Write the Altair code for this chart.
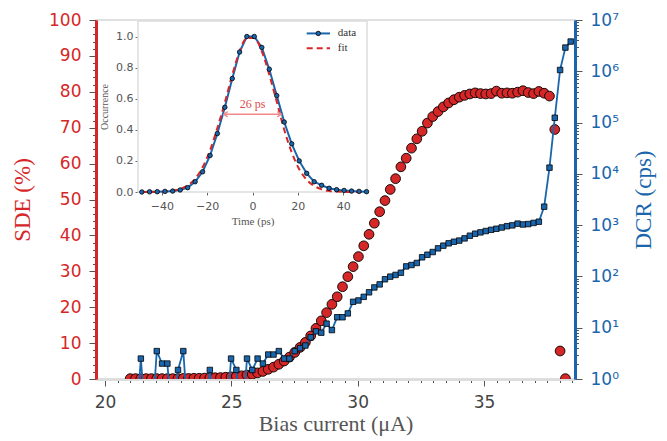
import altair as alt
import pandas as pd

# ---------------- data ----------------
bias_current = [
    21.00, 21.21, 21.42, 21.63, 21.84, 22.05, 22.26, 22.47, 22.68, 22.89,
    23.10, 23.31, 23.52, 23.73, 23.94, 24.15, 24.36, 24.57, 24.78, 24.99,
    25.20, 25.41, 25.62, 25.83, 26.04, 26.25, 26.46, 26.67, 26.88, 27.09,
    27.30, 27.51, 27.72, 27.93, 28.14, 28.35, 28.56, 28.77, 28.98, 29.19,
    29.40, 29.61, 29.82, 30.03, 30.24, 30.45, 30.66, 30.87, 31.08, 31.29,
    31.50, 31.71, 31.92, 32.13, 32.34, 32.55, 32.76, 32.97, 33.18, 33.39,
    33.60, 33.81, 34.02, 34.23, 34.44, 34.65, 34.86, 35.07, 35.28, 35.49,
    35.70, 35.91, 36.12, 36.33, 36.54, 36.75, 36.96, 37.17, 37.38, 37.59,
    37.80, 38.01, 38.22, 38.43,
]

sde_percent = [
    0.1, 0.1, 0.1, 0.1, 0.1, 0.1, 0.1, 0.1, 0.1, 0.1,
    0.15, 0.15, 0.2, 0.2, 0.25, 0.3, 0.35, 0.4, 0.5, 0.6,
    0.75, 0.9, 1.1, 1.3, 1.7, 2.1, 2.7, 3.3, 4.1, 5.0,
    6.1, 7.4, 8.8, 10.2, 12.0, 14.1, 16.2, 18.5, 20.8, 22.9,
    25.7, 28.5, 31.3, 34.1, 37.1, 40.3, 43.4, 46.6, 49.7, 52.8,
    55.8, 59.1, 61.5, 64.3, 66.9, 69.0, 71.3, 73.1, 74.5, 75.8,
    76.9, 77.8, 78.5, 79.0, 79.4, 79.7, 79.5, 79.4, 79.5, 80.2,
    79.6, 79.7, 79.6, 79.9, 80.3, 79.8, 79.5, 80.1, 79.6, 78.8,
    69.5, 7.8, 0.1,
]

dcr_cps = [
    0, 0, 2.5, 0, 0, 3.5, 2, 2, 0, 1.5,
    3.5, 0, 0, 0, 0, 1.5, 0, 0, 0, 2.5,
    1.5, 0, 2.5, 1.5, 2.5, 2, 3, 3, 3.5, 2.5,
    2.5, 3.5, 4, 4.5, 6.5, 8.5, 8, 12, 9, 16,
    16, 19, 32, 34, 40, 49, 61, 70, 88, 99,
    107, 118, 157, 167, 183, 236, 265, 299, 353, 398,
    442, 475, 500, 552, 622, 681, 723, 768, 810, 850,
    900, 955, 990, 1070, 1030, 1050, 1105, 1166, 2290, 13200,
    124000, 1060000, 2900000, 3800000,
]

time_ps = [
    -48.8, -45.4, -42.0, -38.6, -35.2, -31.9, -28.6, -25.3, -22.0, -18.7,
    -15.5, -12.2, -8.9, -5.7, -2.5, 0.8, 4.1, 7.4, 10.7, 14.0,
    17.3, 20.6, 23.9, 27.2, 30.5, 33.8, 37.1, 40.4, 43.7, 47.0, 50.3,
]
occurrence = [
    0.0, 0.001, 0.002, 0.004, 0.006, 0.013, 0.028, 0.066, 0.13, 0.235,
    0.376, 0.545, 0.73, 0.90, 1.0, 1.0, 0.93, 0.79, 0.62, 0.45,
    0.31, 0.20, 0.12, 0.066, 0.043, 0.024, 0.015, 0.01, 0.006, 0.004, 0.002,
]
gauss_fit = [
    0.0001, 0.0003, 0.001, 0.003, 0.008, 0.019, 0.042, 0.085, 0.159, 0.269,
    0.412, 0.575, 0.755, 0.905, 0.99, 0.99, 0.905, 0.755, 0.58, 0.40,
    0.255, 0.147, 0.079, 0.039, 0.017, 0.007, 0.0026, 0.0009, 0.0003, 0.0001, 0.0,
]
fwhm_text = "26 ps"
legend_names = ["data", "fit"]

# ---------------- styling / layout constants ----------------
RED = "#d62728"
BLUE = "#1a66ad"
ARROW_RED = "#f08a8a"
W, H = 479, 359
X_DOM = [19.645, 38.6]
T_DOM = [-50.5, 50.5]
O_DOM = [0.0, 1.1]
INSET_XR = [42, 271]
INSET_YR = [172, 1]
ZERO_FLOOR = 0.1          # zero counts drawn below the log axis (clipped)
SERIF = "Liberation Serif"
SANS = "DejaVu Sans"

sde_df = pd.DataFrame({"I": bias_current[:len(sde_percent)], "SDE": sde_percent})
dcr_df = pd.DataFrame({"I": bias_current, "DCR": dcr_cps})
ins_df = pd.DataFrame({"t": time_ps, "occ": occurrence, "fit": gauss_fit})


def xmain(axis=None):
    return alt.X("I:Q", scale=alt.Scale(domain=X_DOM, nice=False, zero=False), axis=axis)


def ysde(axis=None):
    return alt.Y("SDE:Q", scale=alt.Scale(domain=[0, 100], nice=False, zero=False), axis=axis)


def ydcr(axis=None):
    return alt.Y("DCRp:Q", scale=alt.Scale(type="log", domain=[1, 1e7], nice=False), axis=axis)


def xt(field, axis=None):
    return alt.X(field, type="quantitative",
                 scale=alt.Scale(domain=T_DOM, range=INSET_XR, nice=False, zero=False), axis=axis)


def yo(field, axis=None):
    return alt.Y(field, type="quantitative",
                 scale=alt.Scale(domain=O_DOM, range=INSET_YR, nice=False, zero=False), axis=axis)


# ---------------- axes ----------------
bottom_axis = alt.Axis(orient="bottom", values=[20, 25, 30, 35], format="d", tickSize=7,
                       tickColor="#555", domainColor="#dddddd", domainWidth=3,
                       labelFontSize=17, labelColor="#444", labelPadding=8,
                       title="Bias current (μA)", titleFont=SERIF, titleFontSize=22,
                       titleFontWeight="normal", titleColor="#555", titlePadding=3)
bottom_minor = alt.Axis(orient="bottom",
                        values=[19.5 + 0.5 * i for i in range(40) if (19.5 + 0.5 * i) % 5 != 0],
                        tickSize=3.5, tickColor="#555", labels=False, domain=False, title=None)
left_axis = alt.Axis(orient="left", values=list(range(0, 101, 10)), tickSize=7, tickColor="#555",
                     domainColor=RED, domainWidth=3, labelFontSize=17, labelColor=RED,
                     labelPadding=8, title="SDE (%)", titleFont=SERIF, titleFontSize=23,
                     titleFontWeight="normal", titleColor=RED, titlePadding=14)
left_minor = alt.Axis(orient="left", values=[v for v in range(0, 101, 2) if v % 10 != 0],
                      tickSize=3.5, tickColor="#555", labels=False, domain=False, title=None)
sup = "['⁰','¹','²','³','⁴','⁵','⁶','⁷']"
right_axis = alt.Axis(orient="right", values=[10 ** i for i in range(8)],
                      labelExpr="'10' + " + sup + "[round(log(datum.value) / LN10)]",
                      tickSize=7, tickColor="#555", domainColor=BLUE, domainWidth=3,
                      labelFontSize=17, labelColor=BLUE, labelPadding=8,
                      title="DCR (cps)", titleAngle=270, titleBaseline="top", titleFont=SERIF,
                      titleFontSize=23, titleFontWeight="normal", titleColor=BLUE,
                      titlePadding=14)
right_minor = alt.Axis(orient="right",
                       values=[m * 10 ** d for d in range(7) for m in range(2, 10)],
                       tickSize=3.5, tickColor="#555", labels=False, domain=False, title=None)
inset_x_axis = alt.Axis(orient="bottom", offset=-187, values=[-40, -20, 0, 20, 40], format="d",
                        tickSize=3, tickColor="#666", domain=False, labelFontSize=11,
                        labelColor="#555", labelPadding=5, title="Time (ps)", titleFont=SERIF,
                        titleFontSize=11, titleFontWeight="normal", titleColor="#555",
                        titlePadding=4)
inset_y_axis = alt.Axis(orient="left", offset=-42, values=[0, 0.2, 0.4, 0.6, 0.8, 1.0],
                        format=".1f", tickSize=3, tickColor="#666", domain=False,
                        labelFontSize=11, labelColor="#555", labelPadding=2,
                        title="Occurrence", titleFont=SERIF, titleFontSize=10,
                        titleFontWeight="normal", titleColor="#555", titlePadding=6)

# ---------------- main layers ----------------
minor_main = alt.Chart(sde_df).mark_point(opacity=0).encode(
    x=xmain(bottom_minor), y=ysde(left_minor))
minor_right = alt.Chart(dcr_df).transform_calculate(
    DCRp=f"max(datum.DCR, {ZERO_FLOOR})").mark_point(opacity=0).encode(
    x=xmain(), y=ydcr(right_minor))

sde_pts = alt.Chart(sde_df).mark_circle(size=95, fill=RED, fillOpacity=1, stroke="black",
                                        strokeWidth=0.9, clip=True).encode(
    x=xmain(bottom_axis), y=ysde(left_axis))

dcr_base = alt.Chart(dcr_df).transform_calculate(DCRp=f"max(datum.DCR, {ZERO_FLOOR})")
dcr_line = dcr_base.mark_line(color=BLUE, strokeWidth=1.8, clip=True).encode(
    x=xmain(), y=ydcr(right_axis))
dcr_pts = dcr_base.mark_square(size=30, fill=BLUE, fillOpacity=1, stroke="black",
                               strokeWidth=0.8, clip=True).encode(x=xmain(), y=ydcr())

# ---------------- inset layers ----------------
frame_df = pd.DataFrame({"x0": [T_DOM[0]], "x1": [T_DOM[1]], "y0": [O_DOM[0]], "y1": [O_DOM[1]]})
inset_frame = alt.Chart(frame_df).mark_rect(fill="white", stroke="#dddddd", strokeWidth=1.5).encode(
    x=xt("x0", inset_x_axis), x2="x1", y=yo("y0", inset_y_axis), y2="y1")

ins_line = alt.Chart(ins_df).mark_line(color=BLUE, strokeWidth=2).encode(x=xt("t"), y=yo("occ"))
ins_fit = alt.Chart(ins_df).mark_line(color=RED, strokeWidth=2, strokeDash=[6, 4],
                                      interpolate="monotone").encode(x=xt("t"), y=yo("fit"))
ins_pts = alt.Chart(ins_df).mark_circle(size=20, fill=BLUE, fillOpacity=1, stroke="black",
                                        strokeWidth=0.8).encode(x=xt("t"), y=yo("occ"))

ARROW = {"t0": -12.6, "t1": 12.6, "y": 0.5, "ty": 0.565}
arrow_df = pd.DataFrame({"t0": [ARROW["t0"]], "t1": [ARROW["t1"]], "y": [ARROW["y"]]})
arrow_rule = alt.Chart(arrow_df).mark_rule(color=ARROW_RED, strokeWidth=1.5).encode(
    x=xt("t0"), x2="t1", y=yo("y"))
heads_df = pd.DataFrame({"t": [ARROW["t0"], ARROW["t1"]], "y": [ARROW["y"]] * 2,
                         "side": ["l", "r"]})
arrow_heads = alt.Chart(heads_df).mark_point(filled=False, stroke=ARROW_RED, strokeWidth=1.5,
                                             size=40, opacity=1).encode(
    x=xt("t"), y=yo("y"),
    shape=alt.Shape("side:N", scale=alt.Scale(domain=["l", "r"],
                                               range=["M1.2,-0.8L0,0L1.2,0.8",
                                                      "M-1.2,-0.8L0,0L-1.2,0.8"]),
                    legend=None))
label_df = pd.DataFrame({"t": [0.0], "y": [ARROW["ty"]], "txt": [fwhm_text]})
fwhm_label = alt.Chart(label_df).mark_text(color="#e04a48", fontSize=12, font=SERIF,
                                           baseline="middle").encode(
    x=xt("t"), y=yo("y"), text="txt:N")

LEG = {"t0": 23.9, "t1": 34.2, "tm": 29.0, "tx": 37.6, "y_data": 1.02, "y_fit": 0.924}
leg_data_df = pd.DataFrame({"t": [LEG["t0"], LEG["t1"]], "y": [LEG["y_data"]] * 2})
leg_fit_df = pd.DataFrame({"t": [LEG["t0"], LEG["t1"]], "y": [LEG["y_fit"]] * 2})
leg_data_line = alt.Chart(leg_data_df).mark_line(color=BLUE, strokeWidth=2).encode(
    x=xt("t"), y=yo("y"))
leg_fit_line = alt.Chart(leg_fit_df).mark_line(color=RED, strokeWidth=2, strokeDash=[6, 4]).encode(
    x=xt("t"), y=yo("y"))
leg_mark_df = pd.DataFrame({"t": [LEG["tm"]], "y": [LEG["y_data"]]})
leg_marker = alt.Chart(leg_mark_df).mark_circle(size=20, fill=BLUE, fillOpacity=1, stroke="black",
                                                strokeWidth=0.8).encode(x=xt("t"), y=yo("y"))
leg_txt_df = pd.DataFrame({"t": [LEG["tx"], LEG["tx"]], "y": [LEG["y_data"], LEG["y_fit"]],
                           "txt": legend_names})
leg_text = alt.Chart(leg_txt_df).mark_text(align="left", baseline="middle", fontSize=11,
                                           font=SERIF, color="#333").encode(
    x=xt("t"), y=yo("y"), text="txt:N")

chart = alt.layer(
    minor_main, minor_right, sde_pts, dcr_line, dcr_pts,
    inset_frame, ins_line, ins_fit, ins_pts, arrow_rule, arrow_heads, fwhm_label,
    leg_data_line, leg_fit_line, leg_marker, leg_text,
).resolve_scale(x="independent", y="independent", shape="independent").properties(
    width=W, height=H,
    padding={"left": 88, "top": 12, "right": 82, "bottom": 58},
    autosize=alt.AutoSizeParams(type="none"),
    background="white",
).configure_view(stroke="#e0e0e0", strokeWidth=2).configure_axis(
    grid=False, labelFont=SANS)

chart.save("out.html", embed_options={"renderer": "svg", "actions": False})
